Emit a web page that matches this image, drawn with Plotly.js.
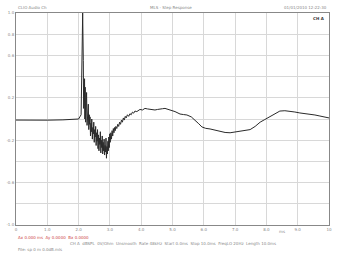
<!DOCTYPE html>
<html>
<head>
<meta charset="utf-8">
<script src="https://cdn.plot.ly/plotly-3.0.1.min.js"></script>
<style>html,body{margin:0;padding:0;background:#fff;}#chart{width:340px;height:253px;}</style>
</head>
<body>
<div id="chart"></div>
<script>
// Time in ms
var timeMs = [0, 0.5, 1.0, 1.5, 1.8, 2.0, 2.04, 2.08, 2.11, 2.13, 2.15, 2.16, 2.17, 2.18, 2.19, 2.20, 2.21, 2.225, 2.235, 2.245, 2.255, 2.27, 2.285, 2.295, 2.31, 2.325, 2.34, 2.35, 2.365, 2.38, 2.395, 2.41, 2.42, 2.44, 2.455, 2.47, 2.485, 2.50, 2.515, 2.53, 2.545, 2.56, 2.575, 2.59, 2.605, 2.62, 2.635, 2.65, 2.665, 2.68, 2.695, 2.71, 2.725, 2.74, 2.755, 2.77, 2.785, 2.80, 2.815, 2.83, 2.845, 2.86, 2.875, 2.89, 2.905, 2.92, 2.935, 2.95, 2.965, 2.98, 2.995, 3.01, 3.03, 3.05, 3.07, 3.09, 3.11, 3.13, 3.15, 3.17, 3.19, 3.22, 3.25, 3.28, 3.31, 3.34, 3.37, 3.40, 3.43, 3.46, 3.49, 3.52, 3.56, 3.60, 3.64, 3.68, 3.72, 3.76, 3.80, 3.86, 3.92, 3.96, 4.04, 4.12, 4.20, 4.28, 4.36, 4.44, 4.52, 4.60, 4.68, 4.76, 4.84, 4.92, 5.08, 5.24, 5.35, 5.46, 5.60, 5.72, 5.84, 5.94, 6.06, 6.20, 6.36, 6.52, 6.68, 6.84, 7.00, 7.16, 7.32, 7.48, 7.64, 7.80, 7.95, 8.11, 8.27, 8.43, 8.59, 8.75, 8.91, 9.07, 9.23, 9.39, 9.55, 9.71, 9.85, 10.0];
// Step response amplitude
var stepResp = [-0.01, -0.012, -0.011, -0.008, -0.005, 0.0, 0.02, 0.04, 0.6, 1.0, 0.55, 0.10, 0.42, 0.15, 0.38, 0.00, 0.30, -0.03, 0.18, 0.05, 0.25, -0.06, 0.10, -0.02, 0.14, -0.10, 0.04, -0.05, 0.02, -0.16, -0.04, -0.12, 0.00, -0.19, -0.08, -0.14, -0.03, -0.22, -0.10, -0.17, -0.07, -0.25, -0.13, -0.21, -0.10, -0.28, -0.15, -0.30, -0.18, -0.24, -0.12, -0.32, -0.20, -0.27, -0.16, -0.33, -0.22, -0.30, -0.19, -0.34, -0.25, -0.31, -0.18, -0.37, -0.26, -0.33, -0.21, -0.30, -0.17, -0.27, -0.14, -0.22, -0.13, -0.19, -0.11, -0.16, -0.09, -0.13, -0.08, -0.11, -0.07, -0.09, -0.05, -0.07, -0.03, -0.05, -0.01, -0.03, 0.01, -0.01, 0.025, 0.01, 0.04, 0.025, 0.05, 0.04, 0.065, 0.055, 0.075, 0.07, 0.088, 0.09, 0.085, 0.10, 0.095, 0.09, 0.088, 0.085, 0.09, 0.09, 0.097, 0.10, 0.095, 0.085, 0.07, 0.047, 0.042, 0.038, 0.02, -0.01, -0.045, -0.075, -0.088, -0.094, -0.105, -0.12, -0.127, -0.13, -0.122, -0.11, -0.105, -0.10, -0.07, -0.03, -0.005, 0.02, 0.05, 0.075, 0.078, 0.075, 0.066, 0.057, 0.052, 0.047, 0.038, 0.028, 0.02, 0.01];

var xTickVals = [0, 1, 2, 3, 4, 5, 6, 7, 8, 9, 10];
var xTickText = ['0', '1.0', '2.0', '3.0', '4.0', '5.0', '6.0', '7.0', '8.0', '9.0', '10'];
var yTickVals = [-1, -0.8, -0.6, -0.4, -0.2, 0, 0.2, 0.4, 0.6, 0.8, 1];
var yTickText = ['-1.0', '', '-0.6', '', '-0.2', '', '0.2', '', '0.6', '0.8', '1.0'];

var tiny = {family: 'DejaVu Sans', size: 4, color: '#888'};

var trace = {
  x: timeMs, y: stepResp, type: 'scatter', mode: 'lines',
  line: {color: '#2a2a2a', width: 1}, hoverinfo: 'skip'
};

var layout = {
  width: 340, height: 253,
  margin: {l: 16, r: 11, t: 13, b: 28},
  paper_bgcolor: '#fff', plot_bgcolor: '#fff',
  showlegend: false,
  xaxis: {
    range: [0, 10], tickvals: xTickVals, ticktext: xTickText,
    showgrid: true, gridcolor: '#d8d8d8', gridwidth: 1,
    zeroline: false, showline: true, linecolor: '#888', linewidth: 1, mirror: true,
    ticks: '', tickfont: tiny
  },
  yaxis: {
    range: [-1, 1], tickvals: yTickVals, ticktext: yTickText,
    showgrid: true, gridcolor: '#d8d8d8', gridwidth: 1,
    zeroline: false, showline: true, linecolor: '#888', linewidth: 1, mirror: true,
    ticks: '', tickfont: tiny
  },
  annotations: [
    {text: 'CLIO Audio Ch', xref: 'paper', yref: 'paper', x: 0, y: 1, xanchor: 'left', yanchor: 'bottom', yshift: 1, showarrow: false, font: tiny},
    {text: 'MLS - Step Response', xref: 'paper', yref: 'paper', x: 0.495, y: 1, xanchor: 'center', yanchor: 'bottom', yshift: 1, showarrow: false, font: tiny},
    {text: '01/01/2010 12:22:30', xref: 'paper', yref: 'paper', x: 1, y: 1, xanchor: 'right', yanchor: 'bottom', yshift: 1, showarrow: false, font: tiny},
    {text: '<b>CH A</b>', xref: 'paper', yref: 'paper', x: 0.995, y: 0.995, xanchor: 'right', yanchor: 'top', showarrow: false, font: {family: 'DejaVu Sans', size: 4, color: '#333'}},
    {text: 'ms', xref: 'x', yref: 'paper', x: 8.5, y: 0, yanchor: 'top', yshift: -2, showarrow: false, font: tiny},
    {text: 'Ax 0.000 ms  Ay 0.0000  Bx 0.0000', xref: 'paper', yref: 'paper', x: 0, y: 0, xanchor: 'left', yanchor: 'top', yshift: -8, showarrow: false, font: {family: 'DejaVu Sans', size: 4, color: '#c44'}},
    {text: 'CH A  dBSPL  0V/Ohm  Unsmooth  Rate 48kHz  Start 0.0ms  Stop 10.0ms  FreqLO 20Hz  Length 10.0ms', xref: 'paper', yref: 'paper', x: 0.5, y: 0, xanchor: 'center', yanchor: 'top', yshift: -14, showarrow: false, font: tiny},
    {text: 'File: sp 0 m 0.0dB.mls', xref: 'paper', yref: 'paper', x: 0, y: 0, xanchor: 'left', yanchor: 'top', yshift: -20, showarrow: false, font: tiny}
  ]
};

Plotly.newPlot('chart', [trace], layout, {staticPlot: true, displayModeBar: false});
</script>
</body>
</html>
